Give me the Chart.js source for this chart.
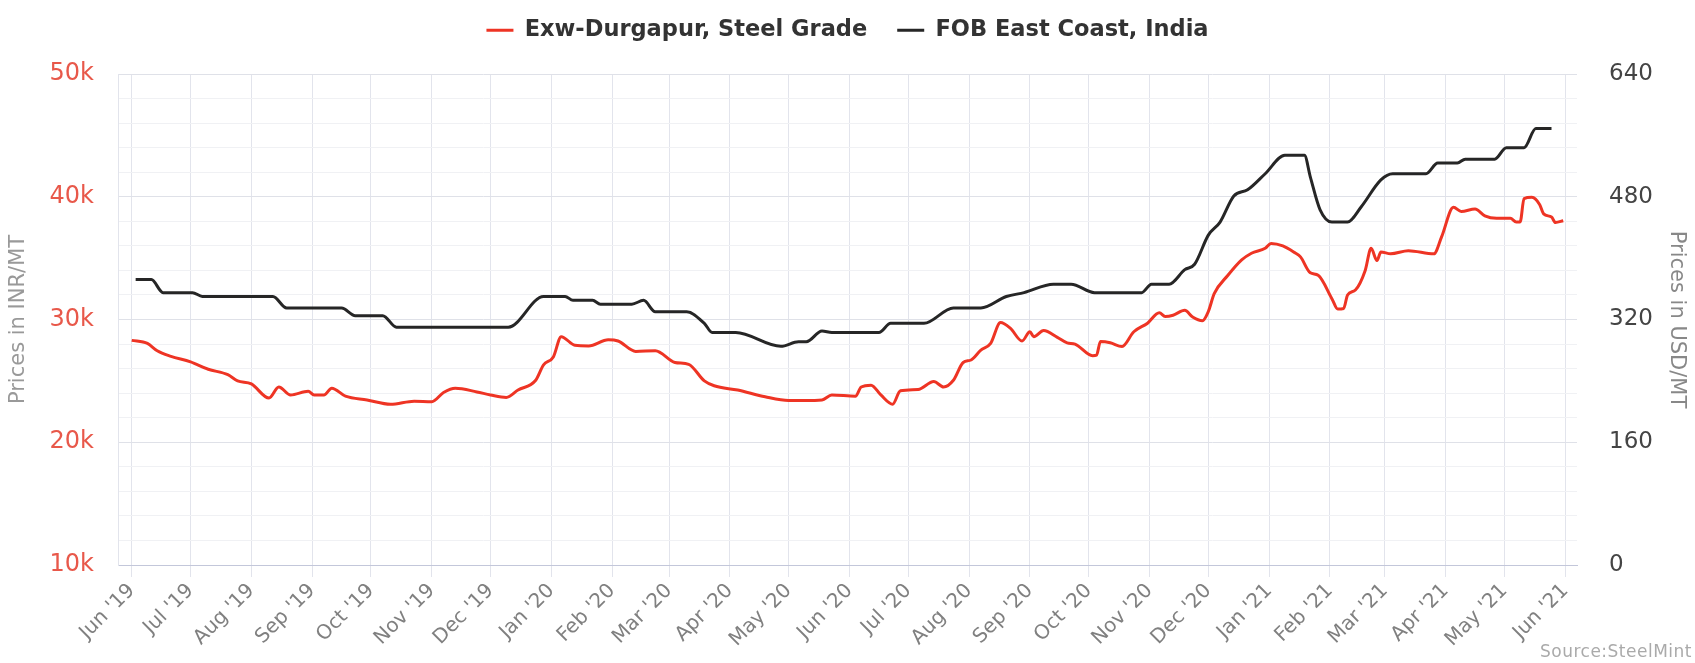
<!DOCTYPE html>
<html>
<head>
<meta charset="utf-8">
<title>Durgapur steel grade vs FOB East Coast</title>
<script src="https://cdn.jsdelivr.net/npm/chart.js@4.4.1/dist/chart.umd.min.js"></script>
<style>
    html, body { margin: 0; padding: 0; background: #fff; }
    #wrap { position: relative; width: 1695px; height: 663px; }
    #source { position: absolute; right: 3px; bottom: 2px; font: 17px "DejaVu Sans"; color: #aaa; letter-spacing: 0.5px; }
</style>
</head>
<body>
<div id="wrap">
    <canvas id="myChart" width="1695" height="663"></canvas>
    <div id="source">Source:SteelMint</div>
</div>
<script>
// Exw-Durgapur, Steel Grade (INR/MT, left axis)
var inrDates = [
    '2019-06-01', '2019-06-09', '2019-06-14', '2019-06-21', '2019-07-01', '2019-07-10', '2019-07-20', '2019-07-25',
    '2019-08-01', '2019-08-10', '2019-08-15', '2019-08-21', '2019-08-30', '2019-09-02', '2019-09-07', '2019-09-11',
    '2019-09-18', '2019-09-29', '2019-10-11', '2019-10-23', '2019-11-01', '2019-11-07', '2019-11-13', '2019-11-24',
    '2019-12-01', '2019-12-09', '2019-12-15', '2019-12-24', '2019-12-28', '2020-01-02', '2020-01-06', '2020-01-13',
    '2020-01-20', '2020-01-30', '2020-02-04', '2020-02-13', '2020-02-23', '2020-03-04', '2020-03-11', '2020-03-19',
    '2020-03-24', '2020-04-05', '2020-04-19', '2020-05-01', '2020-05-09', '2020-05-18', '2020-05-23', '2020-06-04',
    '2020-06-07', '2020-06-12', '2020-06-17', '2020-06-23', '2020-06-27', '2020-07-06', '2020-07-14', '2020-07-19',
    '2020-07-24', '2020-07-29', '2020-08-02', '2020-08-07', '2020-08-12', '2020-08-17', '2020-08-22', '2020-08-28',
    '2020-09-01', '2020-09-03', '2020-09-08', '2020-09-15', '2020-09-20', '2020-09-24', '2020-10-03', '2020-10-05',
    '2020-10-07', '2020-10-12', '2020-10-18', '2020-10-24', '2020-10-31', '2020-11-06', '2020-11-09', '2020-11-13',
    '2020-11-19', '2020-11-23', '2020-11-28', '2020-12-01', '2020-12-04', '2020-12-11', '2020-12-18', '2020-12-23',
    '2020-12-30', '2021-01-02', '2021-01-08', '2021-01-14', '2021-01-17', '2021-01-22', '2021-01-26', '2021-02-02',
    '2021-02-05', '2021-02-08', '2021-02-10', '2021-02-14', '2021-02-19', '2021-02-22', '2021-02-25', '2021-02-27',
    '2021-03-04', '2021-03-13', '2021-03-26', '2021-03-30', '2021-04-05', '2021-04-09', '2021-04-16', '2021-04-21',
    '2021-04-27', '2021-05-04', '2021-05-07', '2021-05-09', '2021-05-11', '2021-05-15', '2021-05-19', '2021-05-21',
    '2021-05-25', '2021-05-27', '2021-05-31'
];
var inrValues = [
    28300, 28050, 27450, 27000, 26550, 25950, 25500, 25000,
    24750, 23600, 24500, 23850, 24150, 23850, 23850, 24400,
    23750, 23450, 23100, 23350, 23300, 24050, 24400, 24100,
    23850, 23650, 24250, 25050, 26300, 26950, 28600, 27900,
    27850, 28350, 28250, 27400, 27450, 26500, 26350, 25000,
    24600, 24250, 23700, 23400, 23400, 23450, 23850, 23750,
    24500, 24650, 23850, 23100, 24200, 24300, 24950, 24500,
    25050, 26500, 26700, 27500, 28050, 29750, 29300, 28250,
    29000, 28600, 29100, 28550, 28100, 28000, 27050, 27100,
    28200, 28100, 27800, 29000, 29700, 30550, 30250, 30350,
    30750, 30200, 29900, 30650, 32100, 33600, 34850, 35400,
    35800, 36200, 36000, 35450, 35100, 33800, 33600, 31700,
    30850, 30900, 32000, 32400, 34000, 35800, 34800, 35500,
    35350, 35600, 35350, 36750, 39150, 38800, 39000, 38450,
    38250, 38250, 37950, 37950, 39850, 39950, 39350, 38600,
    38350, 37900, 38050
];

// FOB East Coast, India (USD/MT, right axis)
var usdDates = [
    '2019-06-03', '2019-06-11', '2019-06-17', '2019-07-02', '2019-07-07', '2019-08-12', '2019-08-19', '2019-09-16',
    '2019-09-23', '2019-10-07', '2019-10-14', '2019-12-10', '2019-12-28', '2020-01-08', '2020-01-12', '2020-01-22',
    '2020-01-26', '2020-02-11', '2020-02-17', '2020-02-23', '2020-03-10', '2020-03-19', '2020-03-23', '2020-04-04',
    '2020-04-27', '2020-05-06', '2020-05-10', '2020-05-18', '2020-05-23', '2020-06-16', '2020-06-22', '2020-07-09',
    '2020-07-24', '2020-08-07', '2020-08-20', '2020-08-29', '2020-09-13', '2020-09-22', '2020-10-04', '2020-10-28',
    '2020-11-02', '2020-11-11', '2020-11-19', '2020-11-24', '2020-12-01', '2020-12-07', '2020-12-14', '2020-12-21',
    '2020-12-30', '2021-01-09', '2021-01-19', '2021-01-22', '2021-01-27', '2021-02-02', '2021-02-10', '2021-02-17',
    '2021-02-27', '2021-03-05', '2021-03-22', '2021-03-28', '2021-04-07', '2021-04-11', '2021-04-26', '2021-05-02',
    '2021-05-11', '2021-05-17', '2021-05-25'
];
var usdValues = [
    372, 372, 355, 355, 350, 350, 335, 335,
    325, 325, 310, 310, 350, 350, 345, 345,
    340, 340, 345, 330, 330, 315, 303, 303,
    285, 291, 291, 305, 303, 303, 315, 315,
    335, 335, 350, 355, 366, 366, 355, 355,
    366, 366, 385, 392, 430, 447, 481, 489,
    510, 534, 534, 506, 463, 447, 447, 467,
    502, 510, 510, 524, 524, 529, 529, 544,
    544, 569, 569
];

// month gridlines / tick labels on the x axis
var monthTicks = [
    '2019-06-01', '2019-07-01', '2019-08-01', '2019-09-01', '2019-10-01', '2019-11-01', '2019-12-01',
    '2020-01-01', '2020-02-01', '2020-03-01', '2020-04-01', '2020-05-01', '2020-06-01', '2020-07-01',
    '2020-08-01', '2020-09-01', '2020-10-01', '2020-11-01', '2020-12-01', '2021-01-01', '2021-02-01',
    '2021-03-01', '2021-04-01', '2021-05-01', '2021-06-01'
];
var monthLabels = [
    "Jun '19", "Jul '19", "Aug '19", "Sep '19", "Oct '19", "Nov '19", "Dec '19",
    "Jan '20", "Feb '20", "Mar '20", "Apr '20", "May '20", "Jun '20", "Jul '20",
    "Aug '20", "Sep '20", "Oct '20", "Nov '20", "Dec '20", "Jan '21", "Feb '21",
    "Mar '21", "Apr '21", "May '21", "Jun '21"
];

var seriesNames = ['Exw-Durgapur, Steel Grade', 'FOB East Coast, India'];
var seriesColors = ['#ee3424', '#262626'];

var FONT = 'DejaVu Sans';

// days since 1 Jun 2019, used as the linear x value
function dayNum(d) {
    return (Date.parse(d) - Date.parse('2019-06-01')) / 86400000;
}

function toPoints(dates, values) {
    return dates.map(function (d, i) { return { x: dayNum(d), y: values[i] }; });
}

// keep the legend band a fixed height, and lift it a little
var legendFit = {
    id: 'legendFit',
    beforeInit: function (chart) {
        var origFit = chart.legend.fit;
        chart.legend.fit = function () {
            origFit.call(this);
            this.height = 74;
        };
    },
    afterLayout: function (chart) {
        chart.legend.top = -11;
    }
};

function createChart() {
    var ctx = document.getElementById('myChart').getContext('2d');
    new Chart(ctx, {
        type: 'line',
        data: {
            datasets: [
                {
                    label: seriesNames[0],
                    data: toPoints(inrDates, inrValues),
                    borderColor: seriesColors[0],
                    backgroundColor: seriesColors[0],
                    borderWidth: 3,
                    pointRadius: 0,
                    cubicInterpolationMode: 'monotone',
                    yAxisID: 'y'
                },
                {
                    label: seriesNames[1],
                    data: toPoints(usdDates, usdValues),
                    borderColor: seriesColors[1],
                    backgroundColor: seriesColors[1],
                    borderWidth: 3,
                    pointRadius: 0,
                    cubicInterpolationMode: 'monotone',
                    yAxisID: 'y2'
                }
            ]
        },
        options: {
            responsive: false,
            animation: false,
            layout: { padding: 0 },
            plugins: {
                tooltip: { enabled: false },
                legend: {
                    position: 'top',
                    labels: {
                        boxWidth: 27,
                        boxHeight: 3,
                        padding: 30,
                        color: '#333',
                        font: { family: FONT, size: 22.5, weight: 'bold' },
                        generateLabels: function (chart) {
                            var items = Chart.defaults.plugins.legend.labels.generateLabels(chart);
                            items.forEach(function (it) { it.lineWidth = 0; });
                            return items;
                        }
                    }
                }
            },
            scales: {
                x: {
                    type: 'linear',
                    min: -7,
                    max: 737,
                    afterBuildTicks: function (scale) {
                        scale.ticks = monthTicks.map(function (d) { return { value: dayNum(d) }; });
                    },
                    afterFit: function (scale) { scale.height = 98; },
                    ticks: {
                        autoSkip: false,
                        maxRotation: 45,
                        minRotation: 45,
                        padding: 2,
                        color: '#808080',
                        font: { family: FONT, size: 20 },
                        callback: function (value, index) { return monthLabels[index]; }
                    },
                    grid: { color: '#e2e4ec', tickLength: 12 },
                    border: { color: '#c3c7da' }
                },
                y: {
                    position: 'left',
                    min: 10000,
                    max: 50000,
                    afterFit: function (scale) { scale.width = 118; },
                    ticks: {
                        stepSize: 2000,
                        autoSkip: false,
                        padding: 24,
                        color: '#e8584a',
                        font: { family: FONT, size: 24 },
                        callback: function (value) { return value % 10000 === 0 ? (value / 1000) + 'k' : ''; }
                    },
                    grid: {
                        drawTicks: false,
                        color: function (c) { return c.tick && c.tick.value % 10000 === 0 ? '#dfe1e8' : '#f0f1f4'; }
                    },
                    border: { color: '#e2e4ec' },
                    title: {
                        display: true,
                        text: 'Prices in INR/MT',
                        color: '#999',
                        font: { family: FONT, size: 21 },
                        padding: { top: 6, bottom: 0 }
                    }
                },
                y2: {
                    position: 'right',
                    min: 0,
                    max: 640,
                    afterFit: function (scale) { scale.width = 118; },
                    ticks: {
                        stepSize: 160,
                        autoSkip: false,
                        padding: 32,
                        color: '#444',
                        font: { family: FONT, size: 23 }
                    },
                    grid: { drawOnChartArea: false, drawTicks: false },
                    border: { display: false },
                    title: {
                        display: true,
                        text: 'Prices in USD/MT',
                        color: '#888',
                        font: { family: FONT, size: 21 },
                        padding: { top: 6, bottom: 0 }
                    }
                }
            }
        },
        plugins: [legendFit]
    });
}

createChart();
</script>
</body>
</html>
